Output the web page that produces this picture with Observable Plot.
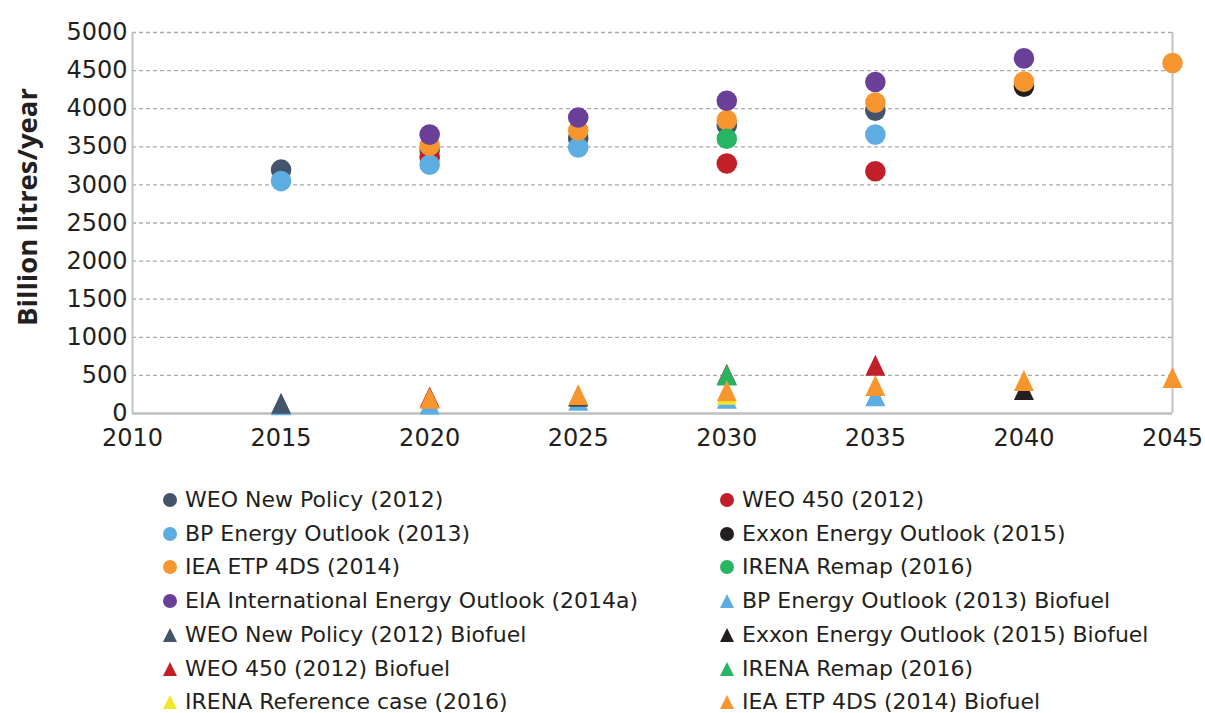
<!DOCTYPE html>
<html>
<head>
<meta charset="utf-8">
<script src="https://cdn.jsdelivr.net/npm/d3@7"></script>
<script src="https://cdn.jsdelivr.net/npm/@observablehq/plot@0.6"></script>
<style>
  html, body { margin: 0; padding: 0; background: #fff; }
  body { width: 1205px; height: 713px; overflow: hidden; font-family: "DejaVu Sans", sans-serif; color: #231F20; }
  #chart svg { display: block; }
  g[aria-label="y-axis label"] text { font-family: "Open Sans", sans-serif; font-weight: 700; font-size: 27.5px; fill: #231F20; }
  #legend { position: relative; width: 1205px; height: 253px; }
  .item { position: absolute; font-size: 22px; line-height: 26px; white-space: nowrap; display: flex; align-items: center; }
  .item svg { margin-right: 7px; }
</style>
</head>
<body>
<div id="chart"></div>
<div id="legend"></div>
<script>
// ---- Data ----
const years = [2015, 2020, 2025, 2030, 2035, 2040, 2045];
const xTicks = [2010, 2015, 2020, 2025, 2030, 2035, 2040, 2045];
const yTicks = [0, 500, 1000, 1500, 2000, 2500, 3000, 3500, 4000, 4500, 5000];

const weoNewPolicy        = [3200, 3450, 3610, 3780, 3975, null, null];
const weo450              = [null, 3360, null, 3280, 3180, null, null];
const bpOutlook           = [3050, 3265, 3490, null, 3660, null, null];
const exxonOutlook        = [null, null, null, null, null, 4290, null];
const ieaEtp4ds           = [null, 3515, 3715, 3850, 4080, 4355, 4600];
const irenaRemap          = [null, null, null, 3605, null, null, null];
const eiaOutlook          = [null, 3660, 3885, 4105, 4350, 4660, null];
const bpBiofuel           = [115, 125, 175, 200, 233, null, null];
const weoNewPolicyBiofuel = [135, null, null, null, null, null, null];
const exxonBiofuel        = [null, null, 230, null, null, 315, null];
const weo450Biofuel       = [null, 215, null, 515, 633, null, null];
const irenaRemapBiofuel   = [null, null, null, 505, null, null, null];
const irenaReference      = [null, null, null, 252, null, null, null];
const ieaEtpBiofuel       = [null, 200, 245, 299, 367, 433, 472];

const seriesNames = [
  "WEO New Policy (2012)", "WEO 450 (2012)",
  "BP Energy Outlook (2013)", "Exxon Energy Outlook (2015)",
  "IEA ETP 4DS (2014)", "IRENA Remap (2016)",
  "EIA International Energy Outlook (2014a)", "BP Energy Outlook (2013) Biofuel",
  "WEO New Policy (2012) Biofuel", "Exxon Energy Outlook (2015) Biofuel",
  "WEO 450 (2012) Biofuel", "IRENA Remap (2016)",
  "IRENA Reference case (2016)", "IEA ETP 4DS (2014) Biofuel"
];
const seriesColors = [
  "#44546A", "#C1202B", "#5DADE2", "#231F20", "#F7962F", "#27B463", "#6A3F98",
  "#5DADE2", "#44546A", "#231F20", "#C1202B", "#27B463", "#F2E62B", "#F7962F"
];
const seriesShapes = [
  "circle", "circle", "circle", "circle", "circle", "circle", "circle",
  "triangle", "triangle", "triangle", "triangle", "triangle", "triangle", "triangle"
];
const seriesValues = [
  weoNewPolicy, weo450, bpOutlook, exxonOutlook, ieaEtp4ds, irenaRemap, eiaOutlook,
  bpBiofuel, weoNewPolicyBiofuel, exxonBiofuel, weo450Biofuel, irenaRemapBiofuel, irenaReference, ieaEtpBiofuel
];

// ---- Build table ----
const rows = [];
seriesValues.forEach((vals, s) => {
  vals.forEach((v, i) => {
    if (v != null) rows.push({year: years[i], value: v, color: seriesColors[s], shape: seriesShapes[s], s});
  });
});

const triangle = {
  draw(ctx, size) {
    const r = Math.sqrt(size / Math.PI);
    ctx.moveTo(0, -r * 1.05);
    ctx.lineTo(r, r * 1.05);
    ctx.lineTo(-r, r * 1.05);
    ctx.closePath();
  }
};

const chart = Plot.plot({
  width: 1205,
  height: 460,
  marginLeft: 132,
  marginRight: 33,
  marginTop: 32,
  marginBottom: 47,
  style: {fontFamily: "'DejaVu Sans', sans-serif", fontSize: "24px", color: "#231F20", background: "#fff"},
  x: {domain: [2010, 2045]},
  y: {domain: [0, 5000]},
  color: {type: "identity"},
  marks: [
    Plot.gridY(yTicks.filter(d => d > 0), {stroke: "#ABABAB", strokeOpacity: 1, strokeWidth: 1.3, strokeDasharray: "4,3"}),
    Plot.ruleX([2010, 2045], {stroke: "#C4C4C4", strokeWidth: 2}),
    Plot.ruleY([0], {stroke: "#BFBFBF", strokeWidth: 2.5}),
    Plot.axisX({ticks: xTicks, tickSize: 0, tickPadding: 15, tickFormat: d => String(d), label: null}),
    Plot.axisY({ticks: yTicks, tickSize: 0, tickPadding: 5, tickFormat: d => String(d),
      label: "Billion litres/year", labelAnchor: "center", labelArrow: "none", labelOffset: 115}),
    Plot.dot(rows.filter(d => d.shape === "circle"), {x: "year", y: "value", fill: "color", r: 10.3, stroke: "none"}),
    Plot.dot(rows.filter(d => d.shape === "triangle"), {x: "year", y: "value", fill: "color", r: 10, symbol: triangle, stroke: "none"})
  ]
});
document.getElementById("chart").appendChild(chart);

// nudge the y-axis title up slightly, as in the reference
const yl = chart.querySelector('g[aria-label="y-axis label"]');
if (yl) {
  const t = yl.getAttribute("transform") || "";
  yl.setAttribute("transform", (t + " translate(0,-16)").trim());
}

// ---- Legend ----
const legend = document.getElementById("legend");
seriesNames.forEach((name, i) => {
  const row = Math.floor(i / 2), col = i % 2;
  const el = document.createElement("div");
  el.className = "item";
  el.style.left = (col === 0 ? 162 : 719) + "px";
  el.style.top = (40 + row * 33.7 - 13) + "px";
  const mark = seriesShapes[i] === "circle"
    ? `<svg width="16" height="16"><circle cx="8" cy="8" r="7" fill="${seriesColors[i]}"/></svg>`
    : `<svg width="16" height="16"><path d="M8,1L15,15L1,15Z" fill="${seriesColors[i]}"/></svg>`;
  el.innerHTML = mark + `<span>${name}</span>`;
  legend.appendChild(el);
});
</script>
</body>
</html>
